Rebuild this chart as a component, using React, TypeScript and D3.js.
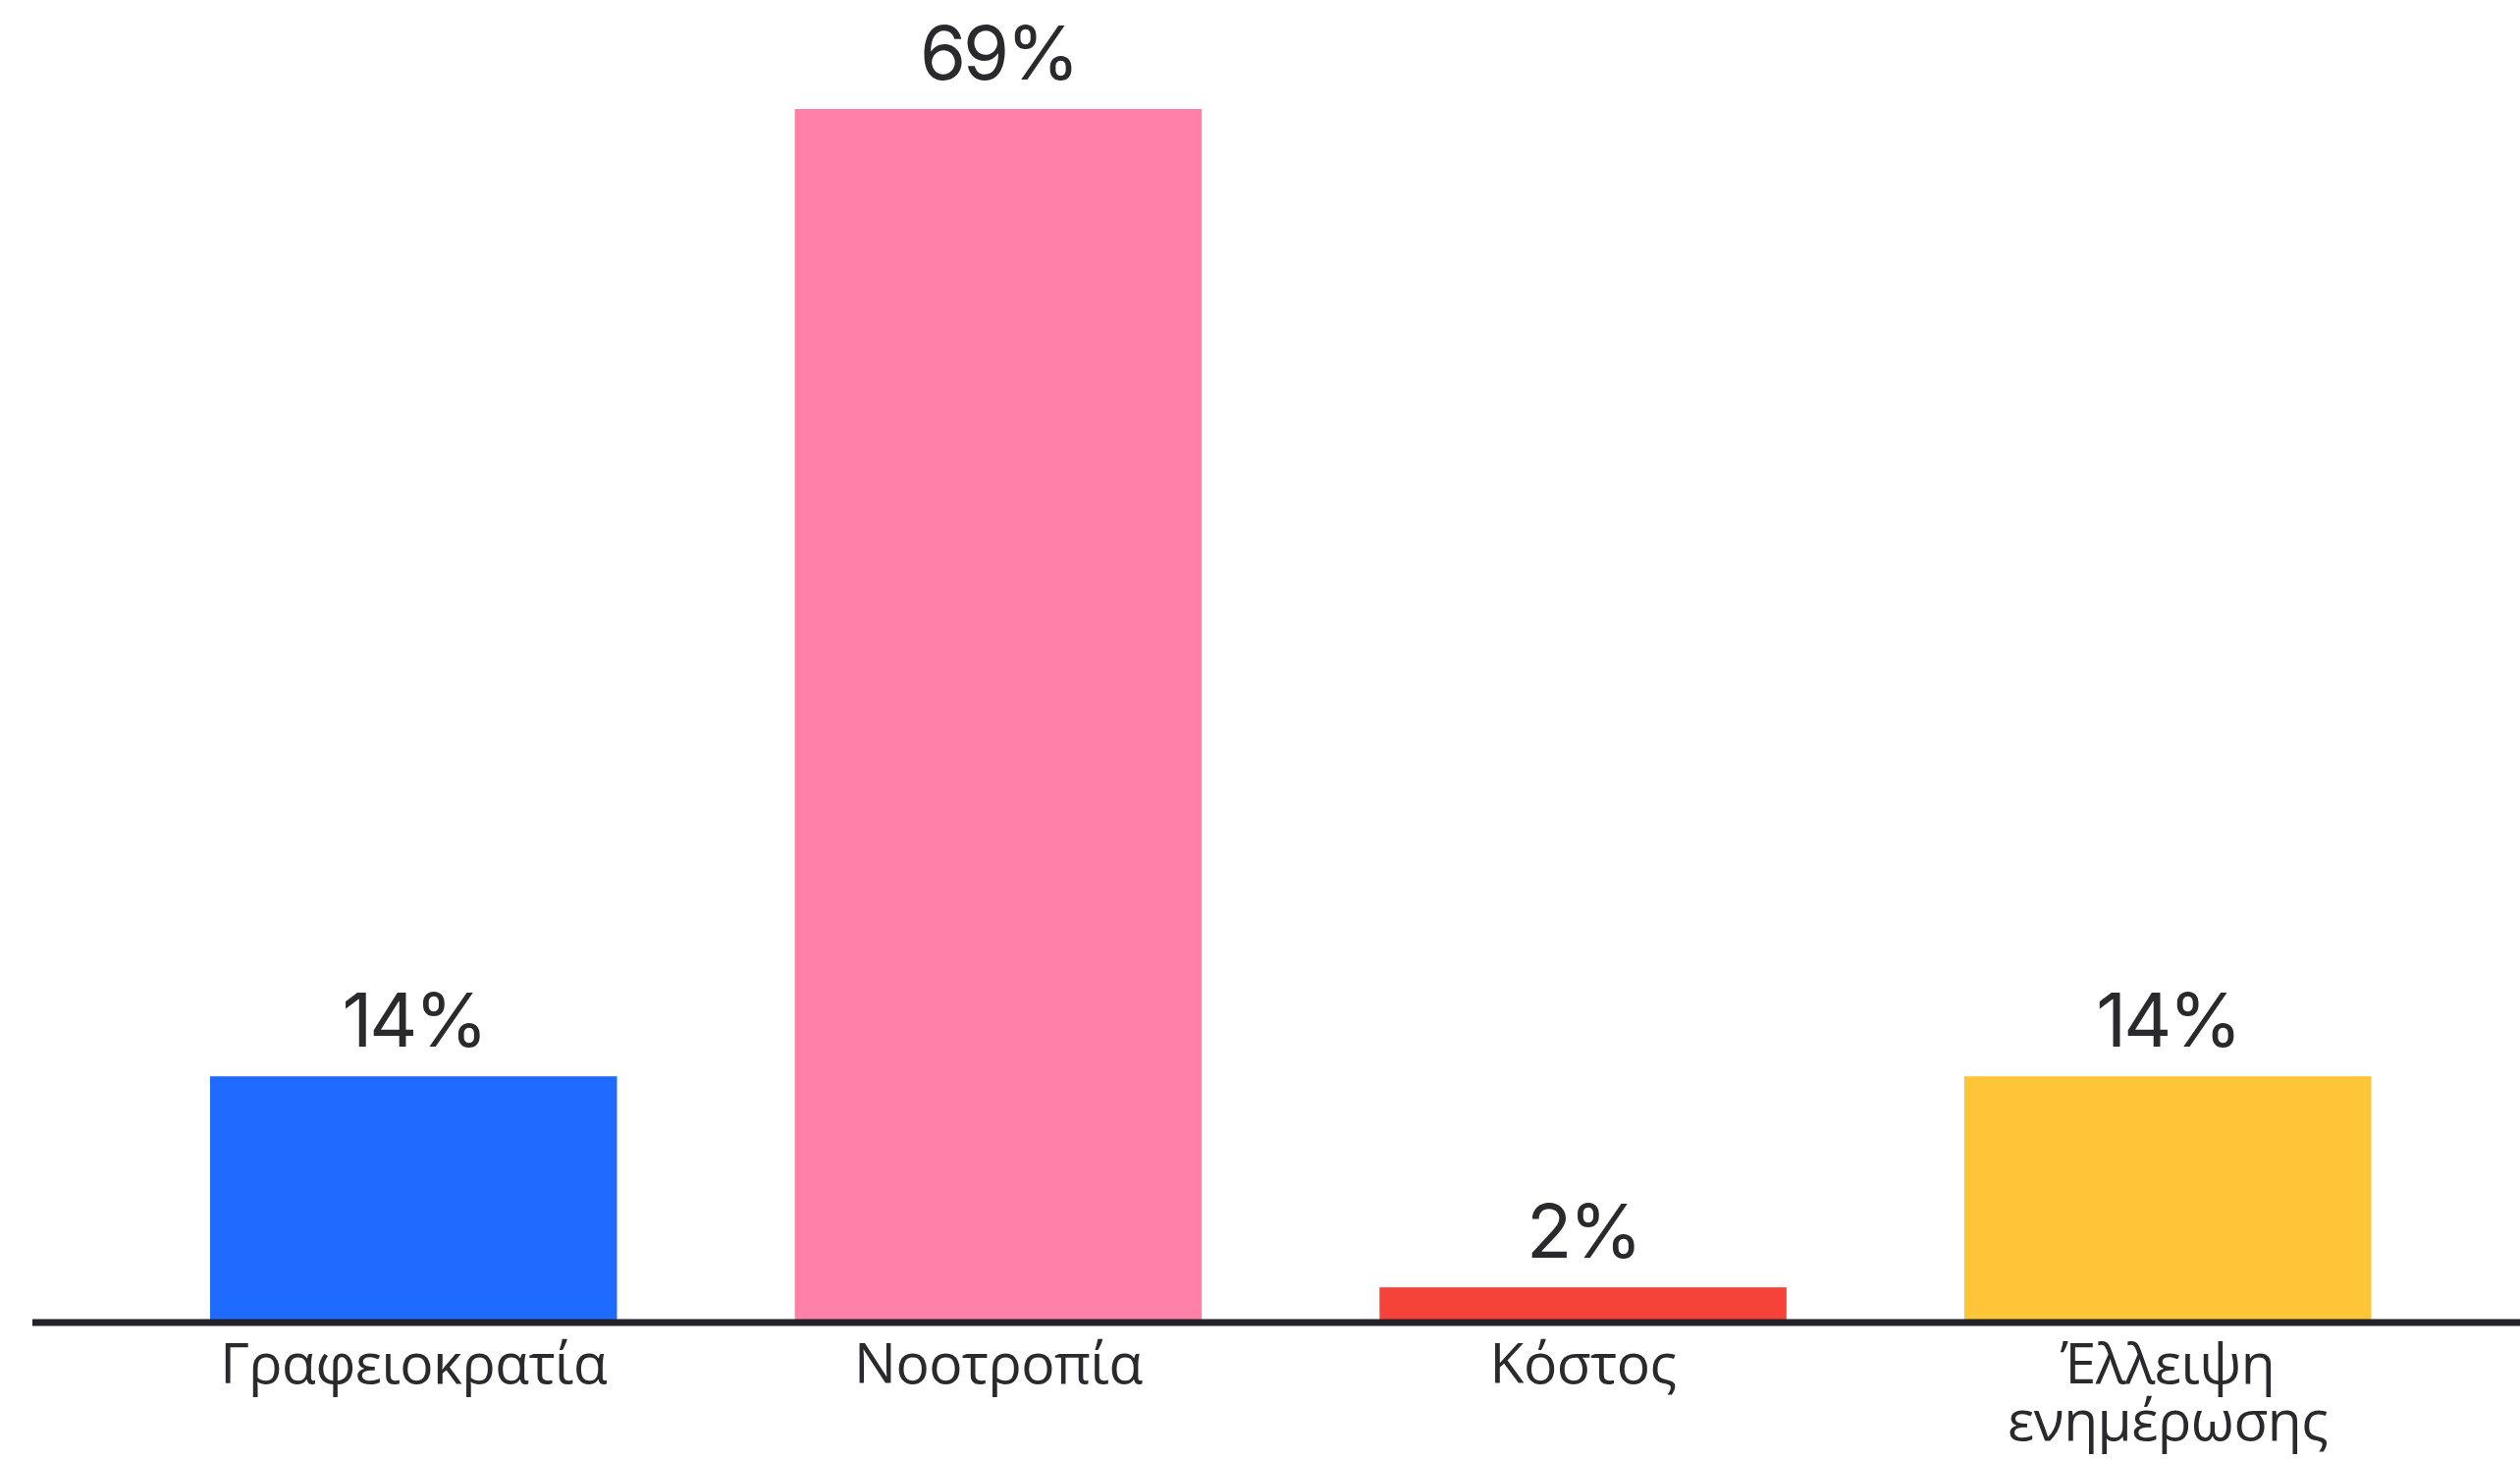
import React, { useEffect } from "react";
import * as d3 from "d3";

const categories: string[][] = [
  ["Γραφειοκρατία"],
  ["Νοοτροπία"],
  ["Κόστος"],
  ["Έλλειψη", "ενημέρωσης"],
];
const values: number[] = [14, 69, 2, 14];
const valueLabels: string[] = ["14%", "69%", "2%", "14%"];
const colors: string[] = ["#1F6BFF", "#FF80A8", "#F6433A", "#FDC537"];

const W = 2567;
const H = 1486;
const baseline = 1347;

export default function App() {
  useEffect(() => {
    document.body.style.margin = "0";
  }, []);

  const x = d3
    .scaleBand<number>()
    .domain(values.map((_, i) => i))
    .range([123.4, 2506])
    .paddingInner(0.304)
    .paddingOuter(0.152);

  const y = d3.scaleLinear().domain([0, 69]).range([baseline, 111]);

  return (
    <svg width={W} height={H} style={{ display: "block", background: "#fff" }}>
      {values.map((v, i) => (
        <rect
          key={"b" + i}
          x={x(i)}
          y={y(v)}
          width={x.bandwidth()}
          height={baseline - y(v)}
          fill={colors[i]}
        />
      ))}
      <line x1={33} x2={W} y1={baseline} y2={baseline} stroke="#23222a" strokeWidth={7} />
      {values.map((v, i) => (
        <text
          key={"v" + i}
          x={(x(i) as number) + x.bandwidth() / 2}
          y={y(v) - 30}
          textAnchor="middle"
          fontFamily="Inter"
          fontSize={76}
          letterSpacing={-3}
          fill="#2a2a2e"
        >
          {valueLabels[i]}
        </text>
      ))}
      {categories.map((lines, i) => (
        <text
          key={"c" + i}
          x={(x(i) as number) + x.bandwidth() / 2}
          y={1409}
          textAnchor="middle"
          fontFamily="Open Sans"
          fontSize={57}
          letterSpacing={-0.5}
          fill="#2a2a2e"
        >
          {lines.map((l, j) => (
            <tspan key={j} x={(x(i) as number) + x.bandwidth() / 2} dy={j === 0 ? 0 : 58}>
              {l}
            </tspan>
          ))}
        </text>
      ))}
    </svg>
  );
}
